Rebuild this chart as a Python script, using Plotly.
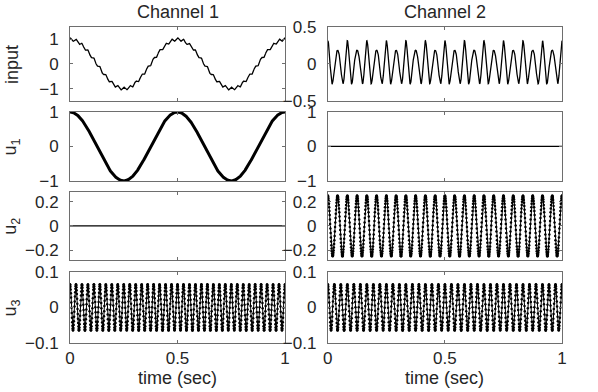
import numpy as np
import plotly.graph_objects as go
from plotly.subplots import make_subplots

# signal components: frequency (Hz) and amplitude per channel
comp_freq = [2, 24, 36]
amp_ch1 = [1.0, 0.0, 0.065]
amp_ch2 = [0.0, 0.25, 0.065]
row_labels = ["input", "u<sub>1</sub>", "u<sub>2</sub>", "u<sub>3</sub>"]
col_titles = ["Channel 1", "Channel 2"]
x_ticks = [0, 0.5, 1]

t = np.linspace(0, 1, 1001)

def components(amps):
    return [a * np.cos(2 * np.pi * f * t) for f, a in zip(comp_freq, amps)]

ch1 = components(amp_ch1)
ch2 = components(amp_ch2)
signals = {
    1: [ch1[0] + ch1[1] + ch1[2], ch2[0] + ch2[1] + ch2[2]],
    2: [ch1[0], ch2[0]],
    3: [ch1[1], ch2[1]],
    4: [ch1[2], ch2[2]],
}

y_ranges = {1: [[-1.5, 1.5], [-0.5, 0.5]], 2: [[-1, 1], [-1, 1]],
            3: [[-0.28, 0.28], [-0.28, 0.28]], 4: [[-0.1, 0.1], [-0.1, 0.1]]}
y_ticks = {1: [[-1, 0, 1], [-0.5, 0, 0.5]], 2: [[-1, 0, 1], [-1, 0, 1]],
           3: [[-0.2, 0, 0.2], [-0.2, 0, 0.2]], 4: [[-0.1, 0, 0.1], [-0.1, 0, 0.1]]}

fig = make_subplots(rows=4, cols=2, horizontal_spacing=0.087, vertical_spacing=0.035)

for r in range(1, 5):
    for c in range(1, 3):
        y = signals[r][c - 1]
        if r >= 3 and np.abs(y).max() > 0.01:
            fig.add_trace(go.Scatter(x=t, y=y, mode="lines+markers",
                                     line=dict(color="black", width=1),
                                     marker=dict(color="black", size=2.5)),
                          row=r, col=c)
        else:
            w = 3 if (r == 2 and c == 1) else 1.3
            fig.add_trace(go.Scatter(x=t, y=y, mode="lines",
                                     line=dict(color="black", width=w)),
                          row=r, col=c)
        fig.update_yaxes(range=y_ranges[r][c - 1], tickvals=y_ticks[r][c - 1],
                         row=r, col=c)

# domains to match the reference layout
col_dom = [[0, 0.437], [0.524, 1.0]]
row_dom = [[0.766, 1.0], [0.513, 0.731], [0.263, 0.478], [0.0, 0.225]]
for r in range(1, 5):
    for c in range(1, 3):
        fig.update_xaxes(domain=col_dom[c - 1], row=r, col=c)
        fig.update_yaxes(domain=row_dom[r - 1], row=r, col=c)

fig.update_xaxes(range=[0, 1], tickvals=x_ticks, showticklabels=False,
                 ticks="inside", ticklen=3, mirror="ticks", showline=True,
                 linecolor="#6e6e6e", linewidth=1, showgrid=False, zeroline=False,
                 tickcolor="#6e6e6e", ticklabelstandoff=0)
fig.update_xaxes(showticklabels=True, ticktext=["0", "0.5", "1"], row=4)
fig.update_yaxes(ticks="inside", ticklen=3, mirror="ticks", showline=True,
                 linecolor="#6e6e6e", linewidth=1, showgrid=False, zeroline=False,
                 tickcolor="#6e6e6e", ticklabelstandoff=7)

ann = []
for i, title in enumerate(col_titles):
    ann.append(dict(text=title, x=sum(col_dom[i]) / 2, y=1.047, xref="paper",
                    yref="paper", xanchor="center", yanchor="middle",
                    showarrow=False, font=dict(size=18)))
    ann.append(dict(text="time (sec)", x=sum(col_dom[i]) / 2, y=-0.112,
                    xref="paper", yref="paper", xanchor="center", yanchor="middle",
                    showarrow=False, font=dict(size=18)))
for i, lab in enumerate(row_labels):
    ann.append(dict(text=lab, x=-0.118, y=sum(row_dom[i]) / 2, xref="paper",
                    yref="paper", xanchor="center", yanchor="middle",
                    showarrow=False, textangle=-90, font=dict(size=18)))

fig.update_layout(width=598, height=392, showlegend=False,
                  margin=dict(l=70, r=36, t=27, b=49),
                  paper_bgcolor="white", plot_bgcolor="white",
                  font=dict(family="Liberation Sans, Arial, sans-serif",
                            size=17, color="#262626"),
                  annotations=ann)

# drop the page's default body margin so the figure sits at the window corner
fig.write_html("out.html", config={"displayModeBar": False},
               post_script="document.body.style.margin='0px';")
